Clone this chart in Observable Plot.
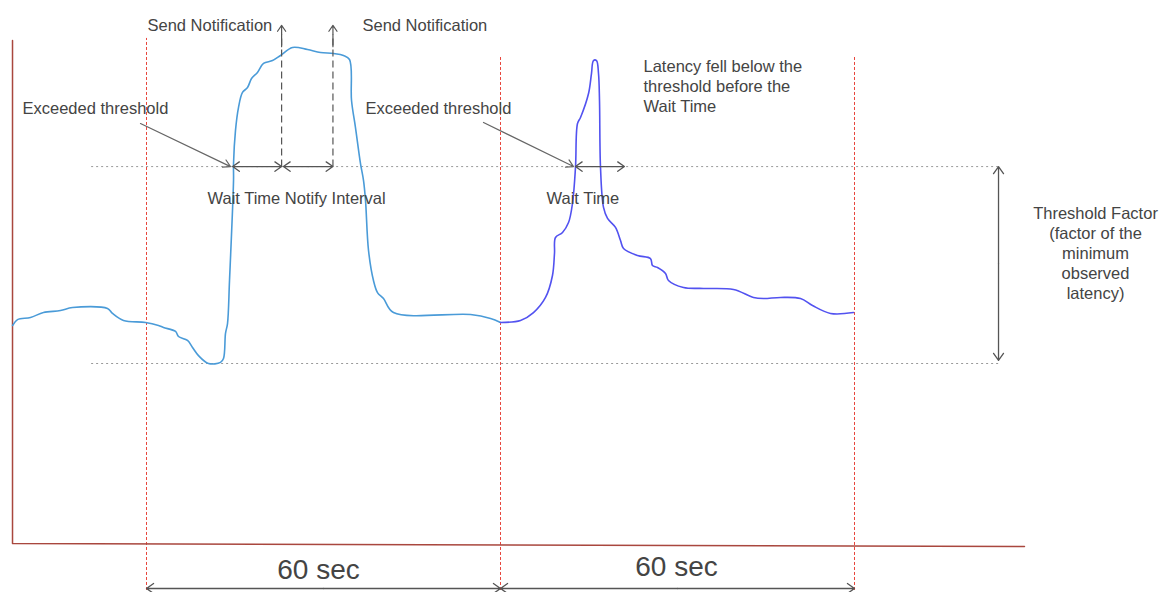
<!DOCTYPE html>
<html>
<head>
<meta charset="utf-8">
<script src="https://cdn.jsdelivr.net/npm/d3@7"></script>
<script src="https://cdn.jsdelivr.net/npm/@observablehq/plot@0.6"></script>
<style>
  html, body { margin: 0; padding: 0; background: #fff; }
  #chart svg { display: block; }
</style>
</head>
<body>
<div id="chart"></div>
<script>
// ---- Data (time in seconds, latency in arbitrary units; min observed latency = 10) ----
const curve1Time = [-22.71,-21.86,-19.66,-17.46,-14.58,-12.54,-6.61,-5.76,-3.90,-0.17,2.03,2.88,4.92,5.42,6.95,7.80,8.81,10.51,12.54,13.05,13.39,13.73,14.07,14.75,14.75,15.08,15.59,16.27,17.12,17.80,18.81,19.83,21.36,22.71,24.75,27.29,29.49,31.69,33.39,34.41,34.75,35.42,36.27,36.78,37.12,37.63,38.47,39.15,40.17,41.86,54.92,58.31,60.0];
const curve1Latency = [12.11,12.44,12.56,12.83,12.94,13.11,13.06,12.78,12.39,12.28,12.11,12.0,11.78,11.5,11.28,10.89,10.44,10.0,10.06,10.28,11.67,12.22,14.61,20.17,21.11,22.94,24.22,25.06,25.33,25.83,26.17,26.67,26.83,27.11,27.56,27.44,27.28,27.22,27.11,26.89,24.61,23.11,21.11,20.17,19.06,16.28,14.61,13.94,13.61,12.83,12.72,12.5,12.28];
const curve2Time = [60.0,63.39,65.59,67.63,68.81,69.15,69.32,70.51,71.53,72.20,72.71,73.05,73.56,74.92,75.42,75.76,76.27,76.61,76.78,76.95,77.46,78.14,79.49,80.34,80.85,83.22,85.42,85.76,86.61,87.97,88.47,91.02,94.41,99.49,102.88,104.58,107.46,110.85,112.88,115.93,119.83];
const curve2Latency = [12.28,12.39,12.83,13.67,14.89,16.11,17.0,17.28,17.83,18.89,20.89,23.33,23.67,25.0,26.11,26.83,26.83,26.11,24.61,20.89,18.67,18.06,17.56,16.83,16.39,16.0,15.83,15.44,15.33,15.0,14.61,14.22,14.17,14.11,13.67,13.61,13.67,13.61,13.22,12.78,12.83];

const windowTimes = [0, 60, 120];
const windowTops = [28.06, 27.0, 27.0];
const thresholdLatency = 20.94;
const minLatency = 10;
const exceedTimes = [14.6, 72.7];
const waitEndTimes = [22.9, 81.0];
const notifyTimes = [22.9, 31.6];
const notifyIntervalStart = 23.2;

// left-aligned annotations
const labels = ["Send Notification", "Send Notification", "Exceeded threshold", "Exceeded threshold",
  "Latency fell below the\nthreshold before the\nWait Time", "Wait Time Notify Interval", "Wait Time"];
const labelTime = [0.17, 36.61, -21.02, 37.12, 84.24, 10.34, 67.8];
const labelLatency = [28.83, 28.83, 24.22, 24.22, 25.44, 19.22, 19.22];

// centred annotation
const factorLabel = ["Threshold Factor\n(factor of the\nminimum\nobserved\nlatency)"];
const factorTime = [160.85];
const factorLatency = [16.17];

const windowLabels = ["60 sec", "60 sec"];
const windowLabelTime = [29.15, 89.83];
const windowLabelLatency = [-1.5, -1.33];

// ---- Build tables ----
const c1 = curve1Time.map((t, i) => ({t, v: curve1Latency[i]}));
const c2 = curve2Time.map((t, i) => ({t, v: curve2Latency[i]}));
const windows = windowTimes.map((t, i) => ({t, top: windowTops[i]}));
const texts = labels.map((s, i) => ({s, t: labelTime[i], v: labelLatency[i]}));
const factorTexts = factorLabel.map((s, i) => ({s, t: factorTime[i], v: factorLatency[i]}));
const bigTexts = windowLabels.map((s, i) => ({s, t: windowLabelTime[i], v: windowLabelLatency[i]}));

const axisLine = [{t: -22.71, v: 27.94}, {t: -22.71, v: 0}, {t: 148.81, v: -0.17}];

// double-headed arrows: drawn as two arrows from a midpoint
function dbl(x1, y1, x2, y2) {
  const mx = (x1 + x2) / 2, my = (y1 + y2) / 2;
  return [{x1: mx, y1: my, x2: x1, y2: y1}, {x1: mx, y1: my, x2: x2, y2: y2}];
}
const hArrows = [
  ...dbl(exceedTimes[0], thresholdLatency, waitEndTimes[0], thresholdLatency),
  ...dbl(notifyIntervalStart, thresholdLatency, notifyTimes[1], thresholdLatency),
  ...dbl(exceedTimes[1], thresholdLatency, waitEndTimes[1], thresholdLatency),
  ...dbl(144.41, 10.17, 144.41, thresholdLatency),
  ...dbl(0, -2.5, 60, -2.5),
  ...dbl(60, -2.5, 120, -2.5)
];
const leaders = [
  {x1: -1.02, y1: 23.33, x2: 14.24, y2: thresholdLatency},
  {x1: 57.12, y1: 23.39, x2: 72.37, y2: thresholdLatency}
];
const notifyShafts = notifyTimes.map(t => ({x1: t, y1: thresholdLatency, x2: t, y2: 28.3}));
const notifyHeads = notifyTimes.map(t => ({x1: t, y1: 27.6, x2: t, y2: 28.78}));

const gray = "#555";
const chart = Plot.plot({
  width: 1160,
  height: 592,
  margin: 0,
  x: {domain: [-24.746, 171.864], axis: null},
  y: {domain: [-2.722, 30.167], axis: null},
  style: {fontFamily: "'Liberation Sans', Arial, sans-serif", background: "#fff"},
  marks: [
    Plot.ruleY([thresholdLatency, minLatency], {x1: -9.3, x2: 144.75, stroke: "#999", strokeDasharray: "2,3", strokeWidth: 1}),
    Plot.ruleX(windows, {x: "t", y1: -2.61, y2: "top", stroke: "#e8453c", strokeDasharray: "3,2", strokeWidth: 1}),
    Plot.line(axisLine, {x: "t", y: "v", stroke: "#a9473e", strokeWidth: 1.5}),
    Plot.line(c1, {x: "t", y: "v", stroke: "#4a9bd8", strokeWidth: 1.6, curve: "catmull-rom"}),
    Plot.line(c2, {x: "t", y: "v", stroke: "#5252f0", strokeWidth: 1.6, curve: "catmull-rom"}),
    Plot.link(notifyShafts, {x1: "x1", y1: "y1", x2: "x2", y2: "y2", stroke: gray, strokeWidth: 1.2, strokeDasharray: "7,4"}),
    Plot.arrow(notifyHeads, {x1: "x1", y1: "y1", x2: "x2", y2: "y2", stroke: gray, strokeWidth: 1.2, headLength: 10, headAngle: 70}),
    Plot.arrow(hArrows, {x1: "x1", y1: "y1", x2: "x2", y2: "y2", stroke: gray, strokeWidth: 1.3, headLength: 10, headAngle: 70}),
    Plot.arrow(leaders, {x1: "x1", y1: "y1", x2: "x2", y2: "y2", stroke: "#666", strokeWidth: 1.2, headLength: 10, headAngle: 60}),
    Plot.text(texts, {x: "t", y: "v", text: "s", textAnchor: "start", fontSize: 16.5, fill: "#444", lineHeight: 1.21}),
    Plot.text(factorTexts, {x: "t", y: "v", text: "s", textAnchor: "middle", fontSize: 16.5, fill: "#444", lineHeight: 1.21}),
    Plot.text(bigTexts, {x: "t", y: "v", text: "s", fontSize: 28, fill: "#444"})
  ]
});
document.getElementById("chart").appendChild(chart);
</script>
</body>
</html>
